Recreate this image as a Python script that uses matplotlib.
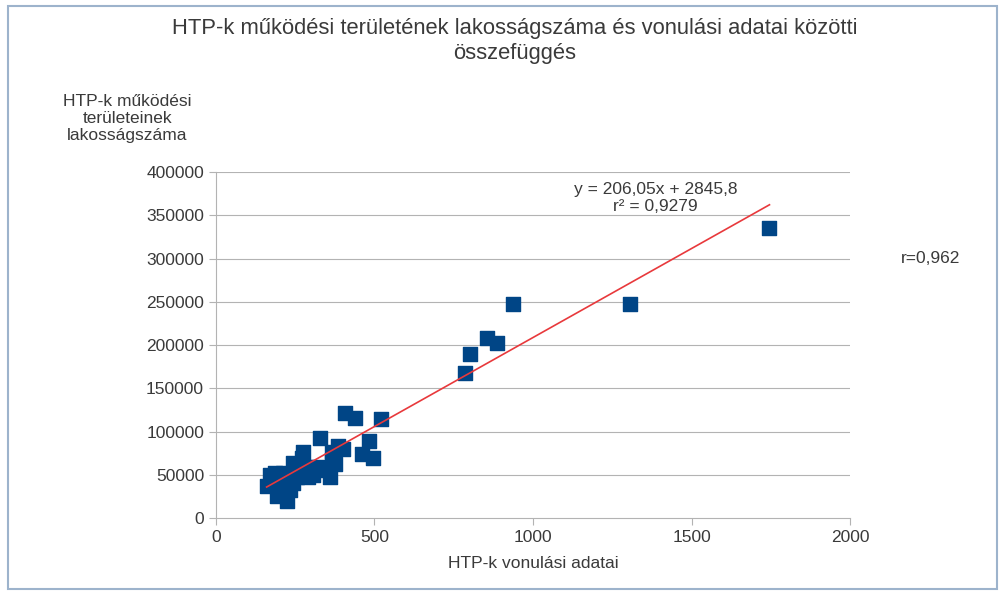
import matplotlib.pyplot as plt
from matplotlib.patches import Rectangle

plt.rcParams['font.family'] = ['Liberation Sans', 'DejaVu Sans']

# vonulási adatok (x) és lakosságszám (y)
vonulas = [1745, 1305, 937, 886, 855, 801, 785, 520, 438, 407, 482, 460, 495,
           328, 385, 400, 366, 275, 271, 243, 318, 338, 306, 360, 375, 366,
           170, 160, 186, 211, 224, 243, 192, 224, 233, 202, 255, 265, 287,
           290, 350, 215]
lakossag = [336000, 248000, 248000, 203000, 208000, 190000, 168000, 114000,
            116000, 121000, 89000, 74000, 69000, 92000, 83000, 80000, 76000,
            76000, 69000, 64000, 59000, 55000, 50000, 47000, 63000, 67000,
            50000, 37000, 52000, 52000, 44000, 40000, 25000, 20000, 32000,
            36000, 47000, 57000, 59000, 47000, 58000, 48000]

# trendvonal a diagramról
slope = 206.05
intercept = 2845.8

x_ticks = [0, 500, 1000, 1500, 2000]
y_ticks = [0, 50000, 100000, 150000, 200000, 250000, 300000, 350000, 400000]

text_col = '#3a3a3a'
grid_col = '#b3b3b3'

fig = plt.figure(figsize=(10.04, 5.92), dpi=100)
fig.patches.append(Rectangle((0.008, 0.005), 0.985, 0.985, transform=fig.transFigure,
                             fill=False, edgecolor='#9db3cc', linewidth=1.5))

ax = fig.add_axes([0.215, 0.125, 0.632, 0.584])

for yt in y_ticks[1:]:
    ax.axhline(yt, color=grid_col, linewidth=0.8, zorder=0)

ax.scatter(vonulas, lakossag, marker='s', s=115, color='#004586', zorder=3)

x0, x1 = min(vonulas), max(vonulas)
ax.plot([x0, x1], [slope * x0 + intercept, slope * x1 + intercept],
        color='#e8393c', linewidth=1.2, zorder=4)

ax.set_xlim(0, 2000)
ax.set_ylim(0, 400000)
ax.set_xticks(x_ticks)
ax.set_yticks(y_ticks)
ax.set_xticklabels([str(v) for v in x_ticks])
ax.set_yticklabels([str(v) for v in y_ticks])
ax.tick_params(colors=grid_col, labelcolor=text_col, labelsize=12.5, length=5, width=0.8)

for s in ['top', 'right']:
    ax.spines[s].set_visible(False)
for s in ['left', 'bottom']:
    ax.spines[s].set_color(grid_col)
    ax.spines[s].set_linewidth(0.8)

ax.set_xlabel('HTP-k vonulási adatai', fontsize=12.5, color=text_col, labelpad=8)

fig.text(0.513, 0.93, 'HTP-k működési területének lakosságszáma és vonulási adatai közötti\nösszefüggés',
         ha='center', va='center', fontsize=15.8, color=text_col, linespacing=1.25)
fig.text(0.127, 0.80, 'HTP-k működési\nterületeinek\nlakosságszáma', ha='center', va='center',
         fontsize=12.5, color=text_col, linespacing=1.15)
fig.text(0.927, 0.564, 'r=0,962', ha='center', va='center', fontsize=12.5, color=text_col)
fig.text(0.653, 0.666, 'y = 206,05x + 2845,8\nr² = 0,9279', ha='center', va='center',
         fontsize=12.5, color=text_col, linespacing=1.15)

fig.savefig('out.png', dpi=100)
